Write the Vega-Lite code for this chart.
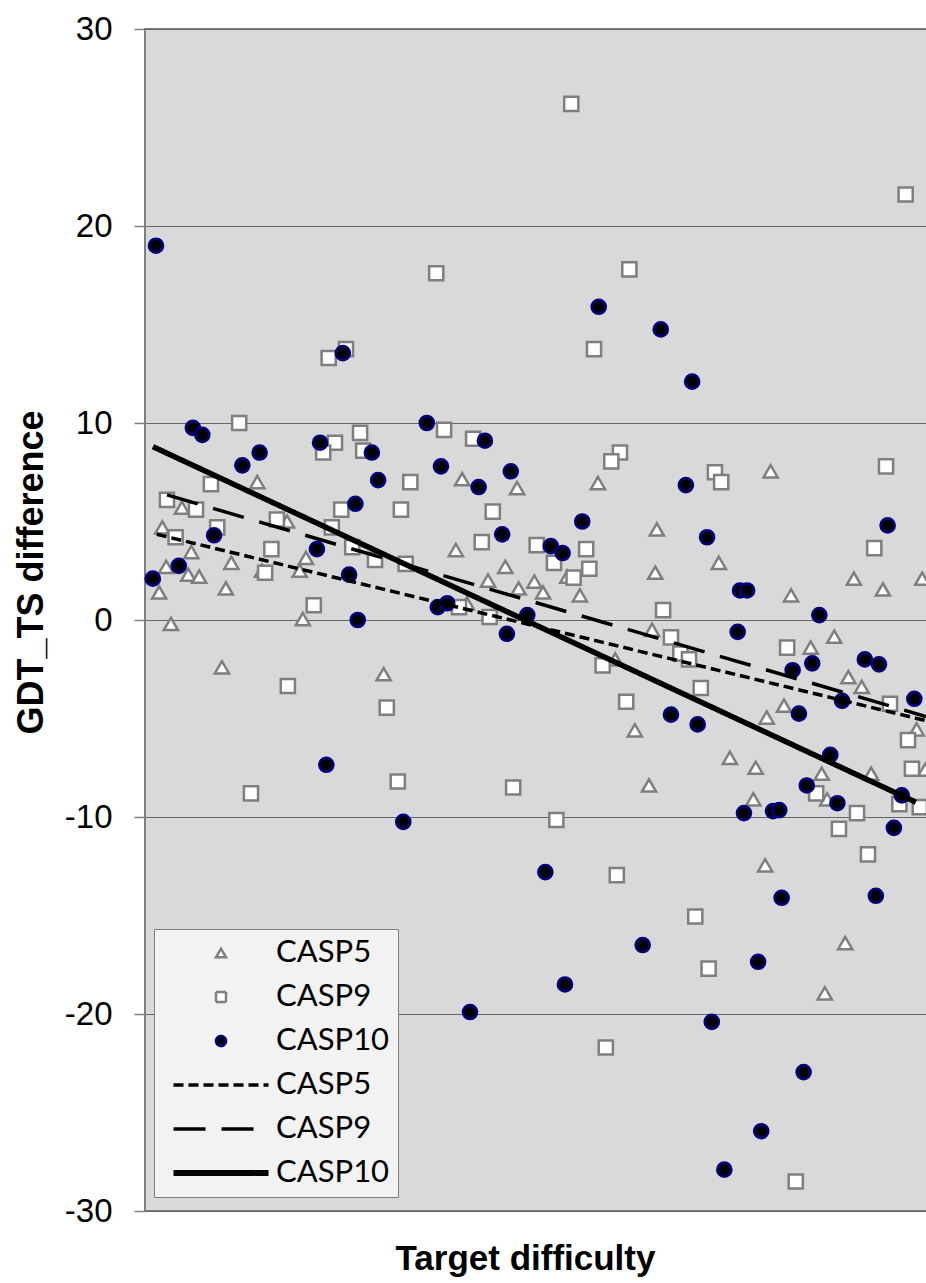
{
  "$schema": "https://vega.github.io/schema/vega-lite/v6.json",
  "width": 785,
  "height": 1182,
  "autosize": "none",
  "padding": {"left": 145, "top": 29, "right": 0, "bottom": 72},
  "background": "white",
  "datasets": {
    "points": [
      {"series":"p5","difficulty":14.3,"gdt":7.0},{"series":"p5","difficulty":4.7,"gdt":5.7},{"series":"p5","difficulty":2.2,"gdt":4.7},{"series":"p5","difficulty":18.1,"gdt":5.0},
      {"series":"p5","difficulty":5.9,"gdt":3.45},{"series":"p5","difficulty":20.5,"gdt":3.15},{"series":"p5","difficulty":2.7,"gdt":2.7},{"series":"p5","difficulty":5.5,"gdt":2.3},
      {"series":"p5","difficulty":6.9,"gdt":2.2},{"series":"p5","difficulty":11.0,"gdt":2.9},{"series":"p5","difficulty":14.9,"gdt":2.5},{"series":"p5","difficulty":19.7,"gdt":2.5},
      {"series":"p5","difficulty":1.8,"gdt":1.4},{"series":"p5","difficulty":10.3,"gdt":1.6},{"series":"p5","difficulty":20.1,"gdt":0.05},{"series":"p5","difficulty":3.3,"gdt":-0.2},
      {"series":"p5","difficulty":9.8,"gdt":-2.4},{"series":"p5","difficulty":30.4,"gdt":-2.75},{"series":"p5","difficulty":40.4,"gdt":7.15},{"series":"p5","difficulty":47.4,"gdt":6.7},
      {"series":"p5","difficulty":57.7,"gdt":6.95},{"series":"p5","difficulty":65.2,"gdt":4.6},{"series":"p5","difficulty":39.6,"gdt":3.55},{"series":"p5","difficulty":45.9,"gdt":2.7},
      {"series":"p5","difficulty":65.0,"gdt":2.4},{"series":"p5","difficulty":43.7,"gdt":2.0},{"series":"p5","difficulty":47.6,"gdt":1.6},{"series":"p5","difficulty":49.6,"gdt":1.95},
      {"series":"p5","difficulty":50.7,"gdt":1.4},{"series":"p5","difficulty":53.8,"gdt":2.2},{"series":"p5","difficulty":55.4,"gdt":1.25},{"series":"p5","difficulty":41.0,"gdt":0.85},
      {"series":"p5","difficulty":64.6,"gdt":-0.5},{"series":"p5","difficulty":59.9,"gdt":-2.0},{"series":"p5","difficulty":62.4,"gdt":-5.6},{"series":"p5","difficulty":64.2,"gdt":-8.4},
      {"series":"p5","difficulty":79.7,"gdt":7.55},{"series":"p5","difficulty":73.1,"gdt":2.9},{"series":"p5","difficulty":82.3,"gdt":1.25},{"series":"p5","difficulty":90.3,"gdt":2.1},
      {"series":"p5","difficulty":94.0,"gdt":1.55},{"series":"p5","difficulty":99.0,"gdt":2.1},{"series":"p5","difficulty":84.8,"gdt":-1.4},{"series":"p5","difficulty":87.8,"gdt":-0.85},
      {"series":"p5","difficulty":89.6,"gdt":-2.9},{"series":"p5","difficulty":91.3,"gdt":-3.4},{"series":"p5","difficulty":98.3,"gdt":-5.55},{"series":"p5","difficulty":99.4,"gdt":-7.6},
      {"series":"p5","difficulty":81.4,"gdt":-4.35},{"series":"p5","difficulty":79.2,"gdt":-4.95},{"series":"p5","difficulty":74.5,"gdt":-7.0},{"series":"p5","difficulty":77.8,"gdt":-7.5},
      {"series":"p5","difficulty":86.2,"gdt":-7.8},{"series":"p5","difficulty":92.5,"gdt":-7.8},{"series":"p5","difficulty":86.9,"gdt":-9.1},{"series":"p5","difficulty":77.5,"gdt":-9.1},
      {"series":"p5","difficulty":79.0,"gdt":-12.45},{"series":"p5","difficulty":89.2,"gdt":-16.4},{"series":"p5","difficulty":86.6,"gdt":-18.95},

      {"series":"p9","difficulty":23.4,"gdt":13.3},{"series":"p9","difficulty":25.6,"gdt":13.75},{"series":"p9","difficulty":12.0,"gdt":10.0},{"series":"p9","difficulty":24.2,"gdt":9.0},
      {"series":"p9","difficulty":22.7,"gdt":8.5},{"series":"p9","difficulty":27.4,"gdt":9.5},{"series":"p9","difficulty":27.8,"gdt":8.6},{"series":"p9","difficulty":33.8,"gdt":7.0},
      {"series":"p9","difficulty":8.4,"gdt":6.9},{"series":"p9","difficulty":2.8,"gdt":6.1},{"series":"p9","difficulty":6.5,"gdt":5.6},{"series":"p9","difficulty":25.0,"gdt":5.6},
      {"series":"p9","difficulty":32.6,"gdt":5.6},{"series":"p9","difficulty":9.2,"gdt":4.7},{"series":"p9","difficulty":3.9,"gdt":4.2},{"series":"p9","difficulty":16.8,"gdt":5.1},
      {"series":"p9","difficulty":23.8,"gdt":4.7},{"series":"p9","difficulty":26.4,"gdt":3.7},{"series":"p9","difficulty":16.1,"gdt":3.6},{"series":"p9","difficulty":29.3,"gdt":3.05},
      {"series":"p9","difficulty":33.2,"gdt":2.85},{"series":"p9","difficulty":15.3,"gdt":2.4},{"series":"p9","difficulty":21.5,"gdt":0.75},{"series":"p9","difficulty":18.2,"gdt":-3.35},
      {"series":"p9","difficulty":30.8,"gdt":-4.45},{"series":"p9","difficulty":13.5,"gdt":-8.8},{"series":"p9","difficulty":32.2,"gdt":-8.2},{"series":"p9","difficulty":37.1,"gdt":17.6},
      {"series":"p9","difficulty":61.7,"gdt":17.8},{"series":"p9","difficulty":57.2,"gdt":13.75},{"series":"p9","difficulty":38.1,"gdt":9.65},{"series":"p9","difficulty":41.8,"gdt":9.2},
      {"series":"p9","difficulty":60.5,"gdt":8.5},{"series":"p9","difficulty":59.4,"gdt":8.05},{"series":"p9","difficulty":44.3,"gdt":5.5},{"series":"p9","difficulty":42.9,"gdt":3.95},
      {"series":"p9","difficulty":49.9,"gdt":3.8},{"series":"p9","difficulty":56.2,"gdt":3.6},{"series":"p9","difficulty":52.1,"gdt":2.9},{"series":"p9","difficulty":56.6,"gdt":2.6},
      {"series":"p9","difficulty":54.6,"gdt":2.15},{"series":"p9","difficulty":66.0,"gdt":0.5},{"series":"p9","difficulty":40.0,"gdt":0.65},{"series":"p9","difficulty":43.9,"gdt":0.15},
      {"series":"p9","difficulty":67.0,"gdt":-0.88},{"series":"p9","difficulty":58.3,"gdt":-2.3},{"series":"p9","difficulty":61.3,"gdt":-4.15},{"series":"p9","difficulty":46.9,"gdt":-8.5},
      {"series":"p9","difficulty":52.4,"gdt":-10.15},{"series":"p9","difficulty":60.1,"gdt":-12.95},{"series":"p9","difficulty":58.7,"gdt":-21.7},{"series":"p9","difficulty":72.6,"gdt":7.5},
      {"series":"p9","difficulty":73.4,"gdt":7.0},{"series":"p9","difficulty":94.4,"gdt":7.8},{"series":"p9","difficulty":92.9,"gdt":3.65},{"series":"p9","difficulty":81.8,"gdt":-1.4},
      {"series":"p9","difficulty":96.9,"gdt":21.6},{"series":"p9","difficulty":68.2,"gdt":-1.7},{"series":"p9","difficulty":69.3,"gdt":-2.0},{"series":"p9","difficulty":70.8,"gdt":-3.45},
      {"series":"p9","difficulty":94.9,"gdt":-4.25},{"series":"p9","difficulty":97.2,"gdt":-6.1},{"series":"p9","difficulty":97.7,"gdt":-7.55},{"series":"p9","difficulty":85.5,"gdt":-8.8},
      {"series":"p9","difficulty":96.1,"gdt":-9.35},{"series":"p9","difficulty":98.7,"gdt":-9.5},{"series":"p9","difficulty":90.7,"gdt":-9.8},{"series":"p9","difficulty":88.4,"gdt":-10.6},
      {"series":"p9","difficulty":92.1,"gdt":-11.9},{"series":"p9","difficulty":70.1,"gdt":-15.05},{"series":"p9","difficulty":71.8,"gdt":-17.7},{"series":"p9","difficulty":82.9,"gdt":-28.5},
      {"series":"p9","difficulty":54.3,"gdt":26.2},

      {"series":"p10","difficulty":1.4,"gdt":19.0},{"series":"p10","difficulty":25.2,"gdt":13.55},{"series":"p10","difficulty":6.1,"gdt":9.75},{"series":"p10","difficulty":7.3,"gdt":9.4},
      {"series":"p10","difficulty":22.3,"gdt":9.0},{"series":"p10","difficulty":28.9,"gdt":8.5},{"series":"p10","difficulty":14.6,"gdt":8.5},{"series":"p10","difficulty":12.4,"gdt":7.85},
      {"series":"p10","difficulty":29.7,"gdt":7.1},{"series":"p10","difficulty":26.8,"gdt":5.9},{"series":"p10","difficulty":8.8,"gdt":4.3},{"series":"p10","difficulty":21.9,"gdt":3.6},
      {"series":"p10","difficulty":4.3,"gdt":2.75},{"series":"p10","difficulty":1.0,"gdt":2.1},{"series":"p10","difficulty":26.0,"gdt":2.3},{"series":"p10","difficulty":27.1,"gdt":0.0},
      {"series":"p10","difficulty":23.1,"gdt":-7.35},{"series":"p10","difficulty":32.9,"gdt":-10.25},{"series":"p10","difficulty":57.8,"gdt":15.9},{"series":"p10","difficulty":65.7,"gdt":14.75},
      {"series":"p10","difficulty":35.9,"gdt":10.0},{"series":"p10","difficulty":43.3,"gdt":9.1},{"series":"p10","difficulty":37.7,"gdt":7.8},{"series":"p10","difficulty":46.6,"gdt":7.55},
      {"series":"p10","difficulty":42.5,"gdt":6.75},{"series":"p10","difficulty":55.7,"gdt":5.0},{"series":"p10","difficulty":45.5,"gdt":4.35},{"series":"p10","difficulty":51.7,"gdt":3.75},
      {"series":"p10","difficulty":53.2,"gdt":3.4},{"series":"p10","difficulty":37.3,"gdt":0.65},{"series":"p10","difficulty":38.5,"gdt":0.85},{"series":"p10","difficulty":48.7,"gdt":0.25},
      {"series":"p10","difficulty":46.1,"gdt":-0.7},{"series":"p10","difficulty":67.0,"gdt":-4.8},{"series":"p10","difficulty":70.4,"gdt":-5.3},{"series":"p10","difficulty":51.0,"gdt":-12.8},
      {"series":"p10","difficulty":63.4,"gdt":-16.5},{"series":"p10","difficulty":53.5,"gdt":-18.5},{"series":"p10","difficulty":41.4,"gdt":-19.9},{"series":"p10","difficulty":69.7,"gdt":12.1},
      {"series":"p10","difficulty":68.9,"gdt":6.85},{"series":"p10","difficulty":94.6,"gdt":4.8},{"series":"p10","difficulty":71.6,"gdt":4.2},{"series":"p10","difficulty":75.8,"gdt":1.5},
      {"series":"p10","difficulty":76.7,"gdt":1.5},{"series":"p10","difficulty":85.9,"gdt":0.25},{"series":"p10","difficulty":75.5,"gdt":-0.6},{"series":"p10","difficulty":85.0,"gdt":-2.2},
      {"series":"p10","difficulty":91.7,"gdt":-2.0},{"series":"p10","difficulty":93.5,"gdt":-2.25},{"series":"p10","difficulty":82.5,"gdt":-2.55},{"series":"p10","difficulty":88.8,"gdt":-4.1},
      {"series":"p10","difficulty":98.0,"gdt":-4.0},{"series":"p10","difficulty":83.3,"gdt":-4.75},{"series":"p10","difficulty":87.3,"gdt":-6.85},{"series":"p10","difficulty":84.3,"gdt":-8.4},
      {"series":"p10","difficulty":88.2,"gdt":-9.3},{"series":"p10","difficulty":96.4,"gdt":-8.9},{"series":"p10","difficulty":76.3,"gdt":-9.8},{"series":"p10","difficulty":80.0,"gdt":-9.7},
      {"series":"p10","difficulty":80.8,"gdt":-9.65},{"series":"p10","difficulty":95.4,"gdt":-10.55},{"series":"p10","difficulty":81.1,"gdt":-14.1},{"series":"p10","difficulty":93.1,"gdt":-14.0},
      {"series":"p10","difficulty":78.1,"gdt":-17.35},{"series":"p10","difficulty":72.2,"gdt":-20.4},{"series":"p10","difficulty":83.9,"gdt":-22.95},{"series":"p10","difficulty":78.5,"gdt":-25.95},
      {"series":"p10","difficulty":73.8,"gdt":-27.9}
    ],
    "fits": [
      {"series":"l5","difficulty":1.5,"gdt":4.35},{"series":"l5","difficulty":99.4,"gdt":-5.1},
      {"series":"l9","difficulty":2.8,"gdt":6.35},{"series":"l9","difficulty":99.5,"gdt":-4.9},
      {"series":"l10","difficulty":1.0,"gdt":8.8},{"series":"l10","difficulty":98.2,"gdt":-9.25}
    ]
  },
  "encoding": {
    "x": {
      "field": "difficulty", "type": "quantitative",
      "scale": {"domain": [0, 100], "nice": false, "zero": false},
      "axis": {
        "labels": false, "ticks": false, "domain": false, "grid": false,
        "title": "Target difficulty", "titleFont": "Liberation Sans", "titleFontSize": 35,
        "titleFontWeight": "bold", "titleColor": "black",
        "titleX": 380, "titleY": 58, "titleBaseline": "alphabetic", "titleAlign": "center", "titleAnchor": null
      }
    },
    "y": {
      "field": "gdt", "type": "quantitative",
      "scale": {"domain": [-30, 30], "nice": false, "zero": false},
      "axis": {
        "values": [-30, -20, -10, 0, 10, 20, 30],
        "labelExpr": "'' + datum.value",
        "grid": true, "gridColor": "#666666", "gridWidth": 1,
        "domain": false, "ticks": true, "tickSize": 11, "tickColor": "#7f7f7f", "tickWidth": 1.5,
        "labelFont": "Liberation Sans", "labelFontSize": 33, "labelColor": "black", "labelPadding": 22,
        "title": "GDT_TS difference", "titleFont": "Liberation Sans", "titleFontSize": 36,
        "titleFontWeight": "bold", "titleColor": "black",
        "titleX": -103, "titleY": 543, "titleAngle": 270, "titleBaseline": "alphabetic", "titleAlign": "center"
      }
    }
  },
  "layer": [
    {
      "data": {"name": "points"},
      "mark": {"type": "point", "filled": true, "size": 200, "strokeWidth": 2.5, "opacity": 1},
      "encoding": {
        "shape": {
          "field": "series", "type": "nominal",
          "scale": {"domain": ["p5","p9","p10","l5","l9","l10"], "range": ["triangle-up","square","circle","M-9.5,0H9.5","M-9.5,0H9.5","M-9.5,0H9.5"]},
          "legend": {"orient": "none", "legendX": 9, "legendY": 900, "title": null, "labelExpr": "'CASP' + slice(datum.label, 1)",
            "encode": {"symbols": {"update": {"strokeWidth": {"signal": "datum.value == 'l10' ? 6 : (datum.value == 'l5' || datum.value == 'l9') ? 3.5 : 2.5"}}}}}
        },
        "fill": {
          "field": "series", "type": "nominal",
          "scale": {"domain": ["p5","p9","p10","l5","l9","l10"], "range": ["white","white","black","transparent","transparent","transparent"]},
          "legend": {"orient": "none", "legendX": 9, "legendY": 900, "title": null, "labelExpr": "'CASP' + slice(datum.label, 1)",
            "encode": {"symbols": {"update": {"strokeWidth": {"signal": "datum.value == 'l10' ? 6 : (datum.value == 'l5' || datum.value == 'l9') ? 3.5 : 2.5"}}}}}
        },
        "stroke": {
          "field": "series", "type": "nominal",
          "scale": {"domain": ["p5","p9","p10","l5","l9","l10"], "range": ["#7f7f7f","#7f7f7f","#000080","black","black","black"]},
          "legend": {"orient": "none", "legendX": 9, "legendY": 900, "title": null, "labelExpr": "'CASP' + slice(datum.label, 1)",
            "encode": {"symbols": {"update": {"strokeWidth": {"signal": "datum.value == 'l10' ? 6 : (datum.value == 'l5' || datum.value == 'l9') ? 3.5 : 2.5"}}}}}
        }
      }
    },
    {
      "data": {"name": "fits"},
      "mark": {"type": "line", "strokeCap": "butt"},
      "encoding": {
        "stroke": {
          "field": "series", "type": "nominal",
          "scale": {"domain": ["p5","p9","p10","l5","l9","l10"], "range": ["#7f7f7f","#7f7f7f","#000080","black","black","black"]},
          "legend": {"orient": "none", "legendX": 9, "legendY": 900, "title": null, "labelExpr": "'CASP' + slice(datum.label, 1)",
            "encode": {"symbols": {"update": {"strokeWidth": {"signal": "datum.value == 'l10' ? 6 : (datum.value == 'l5' || datum.value == 'l9') ? 3.5 : 2.5"}}}}}
        },
        "strokeDash": {
          "field": "series", "type": "nominal",
          "scale": {"domain": ["p5","p9","p10","l5","l9","l10"], "range": [[1,0],[1,0],[1,0],[10,5],[32,16],[1,0]]},
          "legend": {"orient": "none", "legendX": 9, "legendY": 900, "title": null, "labelExpr": "'CASP' + slice(datum.label, 1)",
            "encode": {"symbols": {"update": {"strokeWidth": {"signal": "datum.value == 'l10' ? 6 : (datum.value == 'l5' || datum.value == 'l9') ? 3.5 : 2.5"}}}}}
        },
        "strokeWidth": {"condition": {"test": "datum.series == 'l10'", "value": 5.5}, "value": 3.5}
      }
    }
  ],
  "config": {
    "view": {"fill": "#d9d9d9", "stroke": "#7f7f7f", "strokeWidth": 2},
    "legend": {
      "padding": 8.5, "fillColor": "#f2f2f2", "strokeColor": "#7f7f7f",
      "symbolSize": 100, "symbolOffset": 43, "labelOffset": 39.5,
      "labelFont": "Lato", "labelFontSize": 31, "labelColor": "black",
      "rowPadding": 12, "symbolStrokeWidth": 2.5, "symbolOpacity": 1
    }
  }
}
